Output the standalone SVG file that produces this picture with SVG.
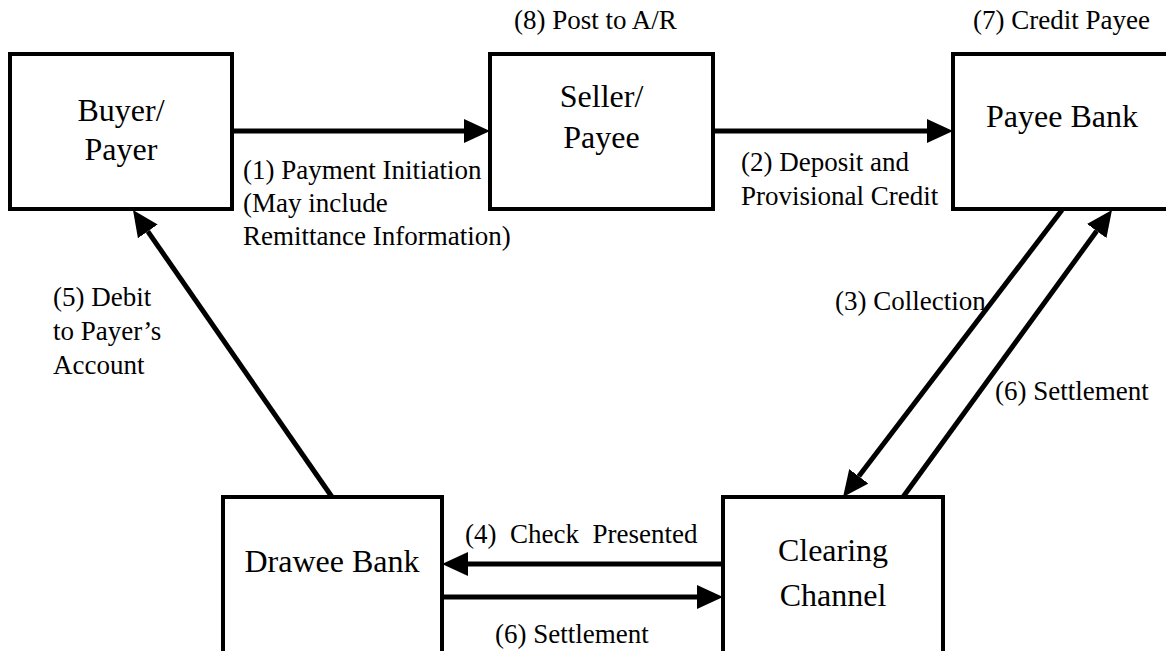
<svg xmlns="http://www.w3.org/2000/svg" width="1166" height="651" viewBox="0 0 1166 651">
<style>
  .box { fill: #fff; stroke: #000; stroke-width: 4; }
  .conn { stroke: #000; stroke-width: 5; fill: none; marker-end: url(#ah); }
  .node { font-family: "Liberation Serif", "Times New Roman", Times, serif; font-size: 32px; fill: #000; text-anchor: middle; }
  .lbl { font-family: "Liberation Serif", "Times New Roman", Times, serif; font-size: 27px; fill: #000; white-space: pre; }
</style>
<defs>
  <marker id="ah" markerUnits="userSpaceOnUse" markerWidth="26" markerHeight="24" refX="0" refY="12" orient="auto">
    <path d="M0,0 L26,12 L0,24 z" fill="#000"/>
  </marker>
</defs>
<rect width="1166" height="651" fill="#fff"/>

<g id="buyer">
  <rect class="box" x="10" y="54" width="222" height="155"/>
  <text class="node" x="121" y="121">Buyer/</text>
  <text class="node" x="121" y="160">Payer</text>
</g>
<g id="seller">
  <rect class="box" x="490" y="54" width="223" height="155"/>
  <text class="node" x="601.5" y="107">Seller/</text>
  <text class="node" x="601.5" y="148">Payee</text>
  <text class="lbl" x="514" y="29">(8) Post to A/R</text>
</g>
<g id="payee-bank">
  <rect class="box" x="953" y="54" width="230" height="155"/>
  <text class="node" x="1062" y="127">Payee Bank</text>
  <text class="lbl" x="1150" y="29" text-anchor="end">(7) Credit Payee</text>
</g>
<g id="drawee-bank">
  <rect class="box" x="223" y="497" width="219" height="170"/>
  <text class="node" x="332" y="572">Drawee Bank</text>
</g>
<g id="clearing-channel">
  <rect class="box" x="723" y="497" width="220" height="170"/>
  <text class="node" x="833" y="561">Clearing</text>
  <text class="node" x="833" y="606">Channel</text>
</g>

<g id="connectors">
  <line class="conn" x1="232" y1="131" x2="464" y2="131"/>
  <line class="conn" x1="713" y1="131" x2="927" y2="131"/>
  <line class="conn" x1="1062" y1="210" x2="858.8" y2="476.3"/>
  <line class="conn" x1="723" y1="564" x2="468" y2="564"/>
  <line class="conn" x1="332" y1="497" x2="147.8" y2="231.4"/>
  <line class="conn" x1="442" y1="597" x2="697" y2="597"/>
  <line class="conn" x1="903" y1="497" x2="1096.7" y2="231"/>

  <text class="lbl" x="243" y="179">(1) Payment Initiation</text>
  <text class="lbl" x="243" y="212">(May include</text>
  <text class="lbl" x="243" y="245">Remittance Information)</text>
  <text class="lbl" x="741" y="171">(2) Deposit and</text>
  <text class="lbl" x="741" y="205">Provisional Credit</text>
  <text class="lbl" x="835" y="310">(3) Collection</text>
  <text class="lbl" x="465" y="543">(4)  Check  Presented</text>
  <text class="lbl" x="53" y="306">(5) Debit</text>
  <text class="lbl" x="53" y="340">to Payer’s</text>
  <text class="lbl" x="53" y="374">Account</text>
  <text class="lbl" x="995" y="400">(6) Settlement</text>
  <text class="lbl" x="495" y="643">(6) Settlement</text>
</g>
</svg>
